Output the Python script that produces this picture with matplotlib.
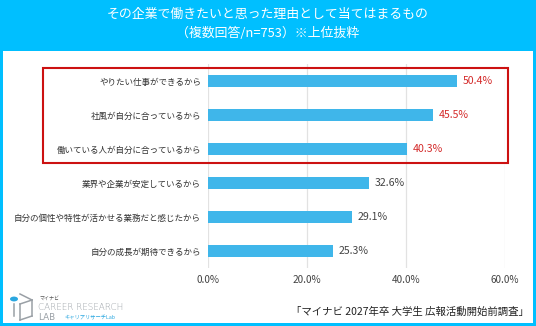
import matplotlib
matplotlib.use("Agg")
import matplotlib.pyplot as plt
from matplotlib.patches import Rectangle, Circle

plt.rcParams['font.family'] = ['Noto Sans CJK JP', 'DejaVu Sans']

# data
categories = [
    "やりたい仕事ができるから",
    "社風が自分に合っているから",
    "働いている人が自分に合っているから",
    "業界や企業が安定しているから",
    "自分の個性や特性が活かせる業務だと感じたから",
    "自分の成長が期待できるから",
]
values = [50.4, 45.5, 40.3, 32.6, 29.1, 25.3]
highlight = [True, True, True, False, False, False]
x_ticks = [0, 20, 40, 60]
title_lines = "その企業で働きたいと思った理由として当てはまるもの\n（複数回答/n=753）※上位抜粋"
source = "「マイナビ 2027年卒 大学生 広報活動開始前調査」"

W, H = 536, 326
frame_col = "#00bfff"
bar_col = "#3fb6ea"
red = "#d42a2a"

fig = plt.figure(figsize=(W / 100, H / 100), dpi=100)
fig.patch.set_facecolor(frame_col)

# white panel inside the cyan frame
fig.add_artist(Rectangle((3 / W, 3 / H), 530 / W, (323 - 51) / H,
                         transform=fig.transFigure, facecolor="white",
                         edgecolor="none", zorder=0))

fig.text(268 / W, 1 - 24 / H, title_lines, ha="center", va="center",
         color="white", fontsize=9.3, linespacing=1.55)

ax = fig.add_axes([208 / W, 1 - 268 / H, (504.6 - 208) / W, (268 - 64) / H])
ax.set_facecolor("none")
y = list(range(len(categories)))
ax.barh(y, values, height=0.36, color=bar_col, zorder=3)
ax.set_xlim(0, 60)
ax.set_ylim(len(categories) - 0.5, -0.5)
ax.set_xticks(x_ticks)
ax.set_xticklabels([f"{t:.1f}%" for t in x_ticks], fontsize=7.2, color="#444444")
ax.set_yticks(y)
ax.set_yticklabels(categories, fontsize=6.15, color="#333333")
ax.tick_params(axis="y", length=0, pad=5)
ax.tick_params(axis="x", length=0, pad=5)
ax.grid(axis="x", color="#e2e2e2", linewidth=0.9, zorder=0)
for s in ax.spines.values():
    s.set_visible(False)

for yi, v, hl in zip(y, values, highlight):
    ax.text(v + 1.2, yi, f"{v:.1f}%", va="center", ha="left", fontsize=7.6,
            color=red if hl else "#444444")

# red box around the top three
fig.add_artist(Rectangle((43 / W, 1 - 163 / H), (508 - 43) / W, (163 - 68) / H,
                         transform=fig.transFigure, facecolor="none",
                         edgecolor="#cc1111", linewidth=1.5, zorder=5))

# source
fig.text(529 / W, 1 - 312 / H, source, ha="right", va="center",
         fontsize=7.5, color="#222222")

# logo (rough)
lg = "#9aa0a6"
fig.add_artist(Circle((14 / W, 1 - 299 / H), 4 / W, transform=fig.transFigure,
                      facecolor="#2aa7e0", edgecolor="none"))
for (x0, y0, x1, y1) in [(20, 294, 32, 300), (32, 300, 32, 316), (20, 320, 32, 316),
                         (20, 304, 20, 320), (20, 304, 32, 300), (14, 304, 14, 316)]:
    fig.add_artist(plt.Line2D([x0 / W, x1 / W], [1 - y0 / H, 1 - y1 / H],
                              transform=fig.transFigure, color=lg, linewidth=1.1))
fig.text(39 / W, 1 - 298 / H, "マイナビ", fontsize=3.6, color="#555555", va="center")
fig.text(38 / W, 1 - 308 / H, "CAREER RESEARCH", fontsize=6.3, color=lg,
         va="center", family="DejaVu Sans", fontweight="light")
fig.text(38 / W, 1 - 318 / H, "LAB", fontsize=6.3, color=lg, va="center",
         family="DejaVu Sans")
fig.text(64 / W, 1 - 318 / H, "キャリアリサーチLab", fontsize=3.8,
         color="#2aa7e0", va="center")

fig.savefig("out.png", dpi=100, facecolor=fig.get_facecolor())
